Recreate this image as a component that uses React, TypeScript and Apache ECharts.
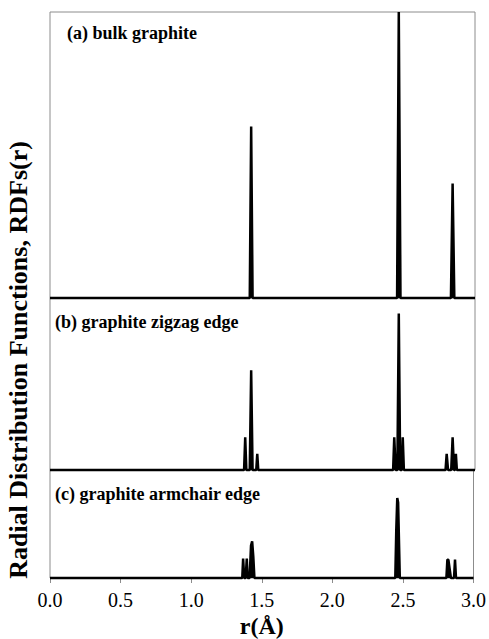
import React, { useEffect, useRef } from "react";
import * as echarts from "echarts";

// Panel (a) bulk graphite
const rA = [0, 1.41, 1.42, 1.43, 2.45, 2.462, 2.474, 2.83, 2.842, 2.854, 3.0];
const gA = [0, 0, 60, 0, 0, 100, 0, 0, 40, 0, 0];

// Panel (b) graphite zigzag edge
const rB = [0, 1.37, 1.378, 1.386, 1.41, 1.42, 1.43, 1.456, 1.463, 1.47, 2.422, 2.43, 2.44, 2.452, 2.462, 2.472, 2.483, 2.49, 2.498, 2.792, 2.8, 2.81, 2.832, 2.842, 2.852, 2.858, 2.865, 2.872, 3.0];
const gB = [0, 0, 0.19, 0, 0, 0.58, 0, 0, 0.094, 0, 0, 0.19, 0, 0, 0.91, 0, 0, 0.19, 0, 0, 0.094, 0, 0, 0.19, 0, 0, 0.094, 0, 0];

// Panel (c) graphite armchair edge
const rC = [0, 1.362, 1.368, 1.376, 1.386, 1.394, 1.4, 1.414, 1.424, 1.432, 1.44, 1.448, 2.446, 2.453, 2.46, 2.466, 2.472, 2.478, 2.808, 2.815, 2.822, 2.84, 2.862, 2.869, 2.876, 3.0];
const gC = [0, 0, 0.18, 0, 0, 0.18, 0, 0, 0.3, 0.34, 0.2, 0, 0, 0.45, 0.74, 0.7, 0.35, 0, 0, 0.17, 0.17, 0, 0, 0.17, 0, 0];

const xTicks = ["0.0", "0.5", "1.0", "1.5", "2.0", "2.5", "3.0"];
const panelLabels = ["(a) bulk graphite", "(b) graphite zigzag edge", "(c) graphite armchair edge"];
const panelMax = [100, 1, 1];

const serif = "'Liberation Serif', 'Times New Roman', serif";

export default function App() {
  const ref = useRef<HTMLDivElement>(null);
  useEffect(() => {
    document.body.style.margin = "0";
    if (!ref.current) return;
    const chart = echarts.init(ref.current, null, { renderer: "svg" });
    const grids = [
      { left: 50, right: 14, top: 12, height: 286 },
      { left: 50, right: 14, top: 298, height: 172 },
      { left: 50, right: 14, top: 470, height: 116 },
    ].map((g) => ({ ...g, show: true, borderColor: "#8c8c8c", borderWidth: 1, backgroundColor: "transparent" }));
    const datasets = [
      rA.map((r, i) => [r, gA[i]]),
      rB.map((r, i) => [r, gB[i]]),
      rC.map((r, i) => [r, gC[i]]),
    ];
    const xAxes = [0, 1, 2].map((i) => ({
      type: "value",
      gridIndex: i,
      min: 0,
      max: 3,
      interval: 0.5,
      show: i === 2,
      axisLine: { show: false },
      axisTick: { show: true, length: 5, lineStyle: { color: "#8c8c8c" } },
      splitLine: { show: false },
      axisLabel: {
        show: true,
        margin: 12,
        fontSize: 20,
        fontFamily: serif,
        color: "#000",
        formatter: (v: number) => xTicks[Math.round(v * 2)] ?? "",
      },
      name: i === 2 ? "r(Å)" : "",
      nameLocation: "middle",
      nameGap: 36,
      nameTextStyle: { fontSize: 24, fontWeight: "bold", fontFamily: serif, color: "#000" },
    }));
    const yAxes = [0, 1, 2].map((i) => ({
      type: "value",
      gridIndex: i,
      min: 0,
      max: panelMax[i],
      show: false,
      splitLine: { show: false },
    }));
    const series = [0, 1, 2].map((i) => ({
      type: "line",
      xAxisIndex: i,
      yAxisIndex: i,
      data: datasets[i],
      symbol: "none",
      clip: false,
      lineStyle: { color: "#000", width: 2.5 },
      areaStyle: { color: "#000", opacity: 1 },
    }));
    const labelPos = [
      [67, 33],
      [55, 322],
      [55, 494],
    ];
    const graphic: any[] = panelLabels.map((t, i) => ({
      type: "text",
      x: labelPos[i][0],
      y: labelPos[i][1],
      style: {
        text: t,
        font: `bold 18px ${serif}`,
        fill: "#000",
        textVerticalAlign: "middle",
      },
    }));
    graphic.push({
      type: "text",
      x: 18,
      y: 360,
      rotation: Math.PI / 2,
      style: {
        text: "Radial Distribution Functions, RDFs(r)",
        font: `bold 26px ${serif}`,
        fill: "#000",
        textAlign: "center",
        textVerticalAlign: "middle",
      },
    });
    chart.setOption({
      animation: false,
      backgroundColor: "#fff",
      grid: grids,
      xAxis: xAxes,
      yAxis: yAxes,
      series,
      graphic,
    });
    return () => chart.dispose();
  }, []);
  return <div ref={ref} style={{ width: 489, height: 639 }} />;
}
